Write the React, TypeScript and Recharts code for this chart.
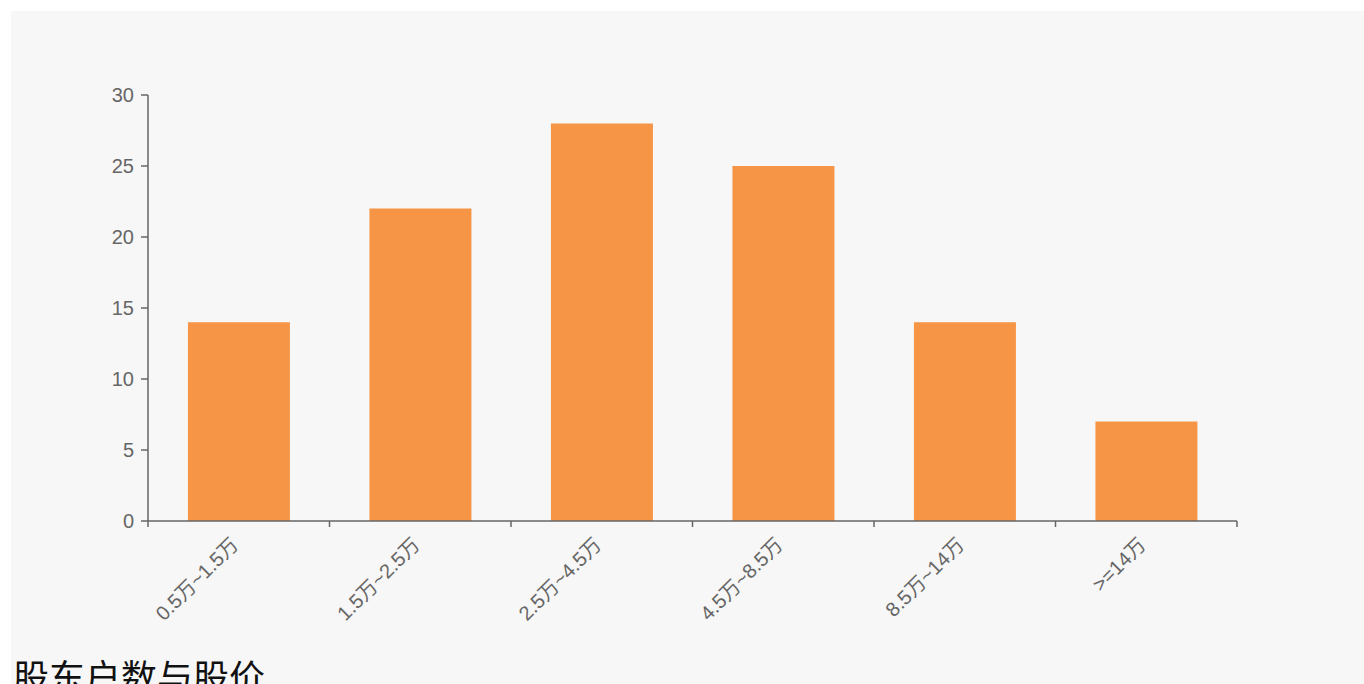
import { BarChart, Bar, XAxis, YAxis } from "recharts";

const categories = ["0.5万~1.5万", "1.5万~2.5万", "2.5万~4.5万", "4.5万~8.5万", "8.5万~14万", ">=14万"];
const counts = [14, 22, 28, 25, 14, 7];
const yTicks = [0, 5, 10, 15, 20, 25, 30];
// category boundaries, where the x axis puts its tick marks
const edgeTicks = [0, 1, 2, 3, 4, 5, 6];

const data = categories.map((name, i) => ({ name, count: counts[i], pos: i + 0.5 }));

const FONT = "'Liberation Sans', 'Noto Sans CJK SC', sans-serif";

function SlantTick(props: any) {
    const { x, y, payload } = props;
    return (
        <g transform={`translate(${x + 1},${y + 15})`}>
            <text
                x={0}
                y={0}
                textAnchor="end"
                transform="rotate(-45)"
                fill="#666"
                fontSize={20}
                fontFamily={FONT}
            >
                {payload.value}
            </text>
        </g>
    );
}

const NoLabel = () => <g />;

export default function App() {
    return (
        <div
            style={{
                position: "fixed",
                top: 11,
                left: 11,
                right: 0,
                bottom: 0,
                overflow: "hidden",
                background: "#f7f7f7",
            }}
        >
            <BarChart
                width={1353}
                height={640}
                data={data}
                margin={{ top: 84, right: 127, left: 77, bottom: 30 }}
                barCategoryGap="22%"
            >
                <XAxis
                    xAxisId="a"
                    dataKey="pos"
                    type="number"
                    domain={[0, categories.length]}
                    ticks={edgeTicks}
                    interval={0}
                    height={2}
                    tick={<NoLabel />}
                    tickSize={6}
                    axisLine={{ stroke: "#666", strokeWidth: 1.5 }}
                    tickLine={{ stroke: "#666", strokeWidth: 1.5 }}
                />
                <XAxis
                    xAxisId="b"
                    dataKey="name"
                    interval={0}
                    height={98}
                    tick={<SlantTick />}
                    axisLine={false}
                    tickLine={false}
                />
                <YAxis
                    width={60}
                    domain={[0, 30]}
                    ticks={yTicks}
                    tickSize={7}
                    tickMargin={7}
                    tick={{ fill: "#666", fontSize: 20, fontFamily: FONT }}
                    axisLine={{ stroke: "#666", strokeWidth: 1.5 }}
                    tickLine={{ stroke: "#666", strokeWidth: 1.5 }}
                />
                <Bar xAxisId="b" dataKey="count" fill="#f69546" isAnimationActive={false} />
            </BarChart>
            <div
                style={{
                    marginTop: -2,
                    marginLeft: 2,
                    fontSize: 36,
                    color: "#111",
                    fontFamily: "'Noto Sans CJK SC', sans-serif",
                }}
            >
                股东户数与股价
            </div>
        </div>
    );
}
